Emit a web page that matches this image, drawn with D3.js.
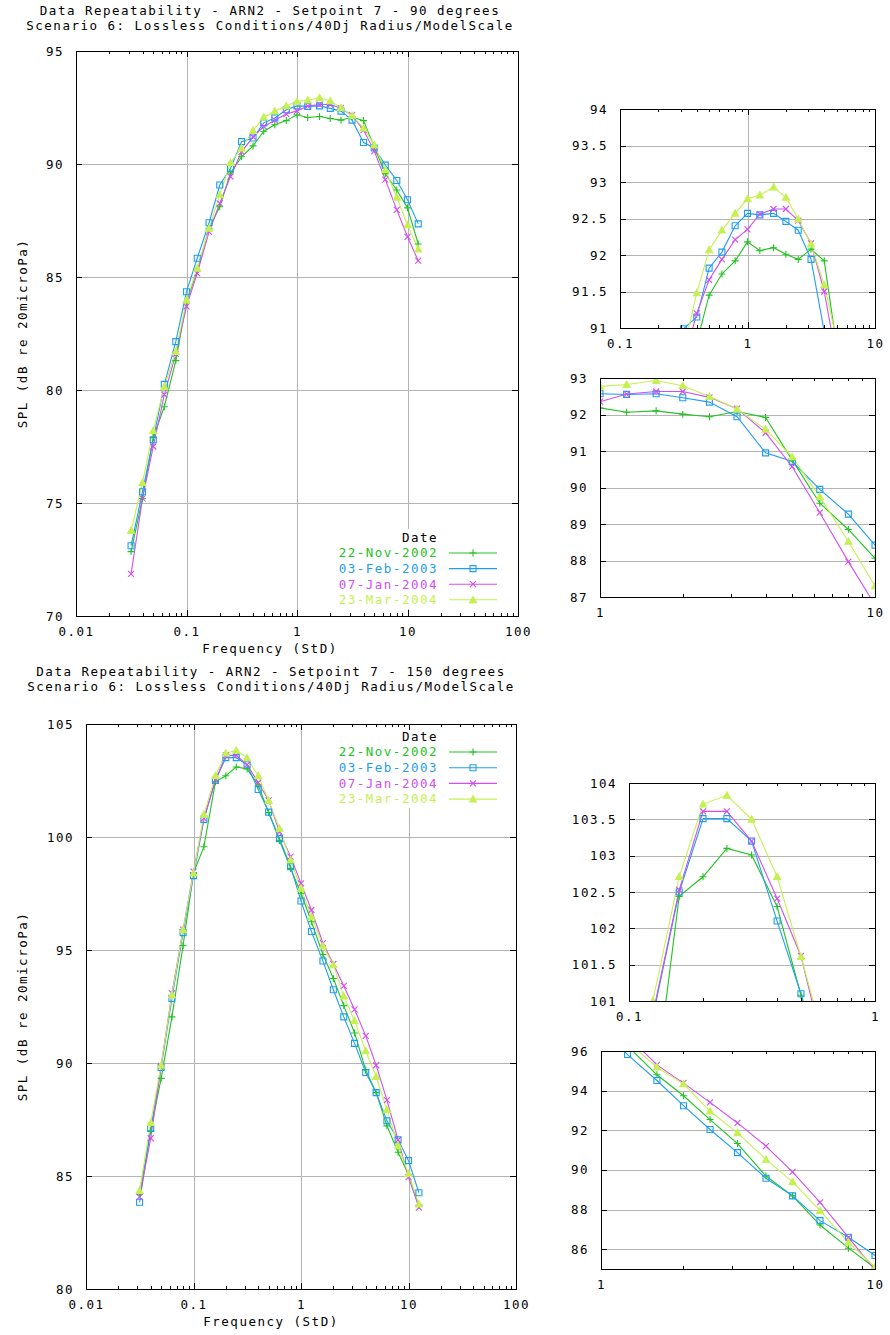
<!DOCTYPE html>
<html><head><meta charset="utf-8">
<script src="https://cdn.jsdelivr.net/npm/d3@7"></script>
<style>
body{margin:0;background:#fff}
svg text{font-family:"DejaVu Sans Mono","Liberation Mono",monospace;font-size:12.5px;letter-spacing:1.5px;fill:#000}
</style>
</head><body>
<svg id="c" width="890" height="1335"></svg>
<script>
// ---------------- data ----------------
const freq = [0.0315,0.04,0.05,0.063,0.08,0.1,0.125,0.16,0.2,0.25,0.315,0.4,0.5,0.63,0.8,1,1.25,1.6,2,2.5,3.15,4,5,6.3,8,10,12.5];
const seriesNames = ["22-Nov-2002","03-Feb-2003","07-Jan-2004","23-Mar-2004"];
const seriesColors = ["#22c322","#1e9ef0","#d24ef2","#c6f052"];
const seriesMarkers = ["plus","square","cross","triangle"];

// 90 degrees
const spl90_nov2002 = [72.85,75.2,77.9,79.26,81.3,83.9,85.28,87.15,88.11,89.6,90.32,90.8,91.45,91.74,91.92,92.18,92.06,92.1,92.01,91.94,92.08,91.92,90.75,89.57,88.85,88.06,86.46];
const spl90_feb2003 = [73.11,75.5,77.8,80.25,82.14,84.35,85.83,87.4,89.07,89.8,90.99,91.15,91.82,92.04,92.4,92.57,92.55,92.57,92.46,92.34,91.94,90.95,90.71,89.95,89.27,88.42,87.35];
const spl90_jan2004 = [71.86,75.2,77.5,79.8,81.6,83.7,85.16,87.0,88.26,89.44,90.54,91.2,91.66,91.94,92.21,92.35,92.56,92.63,92.63,92.47,92.16,91.5,90.57,89.31,87.97,86.78,85.72];
const spl90_mar2004 = [73.78,75.9,78.2,80.15,81.7,83.98,85.38,87.15,88.63,90.06,90.7,91.48,92.07,92.34,92.57,92.77,92.82,92.93,92.79,92.49,92.15,91.59,90.84,89.75,88.52,87.3,86.23];

// 150 degrees
const spl150_nov2002 = [84.2,87.0,89.32,92.04,95.2,98.4,99.57,102.44,102.71,103.1,103.01,102.3,101.08,99.85,98.61,97.51,96.25,94.8,93.74,92.54,91.33,89.69,88.69,87.22,86.05,85.05,83.7];
const spl150_feb2003 = [83.84,87.1,89.8,92.86,95.77,98.29,100.78,102.5,103.51,103.51,103.2,102.1,101.1,99.93,98.69,97.17,95.82,94.51,93.24,92.04,90.87,89.58,88.69,87.44,86.6,85.68,84.26];
const spl150_jan2004 = [84.08,86.67,89.87,93.08,95.9,98.47,100.82,102.53,103.61,103.61,103.2,102.41,101.62,100.23,99.13,97.95,96.77,95.3,94.38,93.41,92.37,91.2,89.9,88.36,86.6,84.95,83.6];
const spl150_mar2004 = [84.35,87.36,89.91,93.01,95.9,98.4,101.0,102.71,103.71,103.83,103.5,102.71,101.61,100.38,98.98,97.73,96.47,95.18,94.34,92.96,91.87,90.53,89.4,87.94,86.35,85.1,83.75];

// tick values
const xTicksMain = [0.01,0.1,1,10,100];
const yTicksMain90 = [70,75,80,85,90,95];
const yTicksMain150 = [80,85,90,95,100,105];
const xTicksZoomA = [0.1,1,10];
const yTicksZoomA = [91,91.5,92,92.5,93,93.5,94];
const xTicksZoomB = [1,10];
const yTicksZoomB = [87,88,89,90,91,92,93];
const xTicksZoomC = [0.1,1];
const yTicksZoomC = [101,101.5,102,102.5,103,103.5,104];
const yTicksZoomD = [86,88,90,92,94,96];

const titles90 = ["Data Repeatability - ARN2 - Setpoint 7 - 90 degrees","Scenario 6: Lossless Conditions/40Dj Radius/ModelScale"];
const titles150 = ["Data Repeatability - ARN2 - Setpoint 7 - 150 degrees","Scenario 6: Lossless Conditions/40Dj Radius/ModelScale"];
const xLabel = "Frequency (StD)";
const yLabel = "SPL (dB re 20microPa)";
const legendTitle = "Date";

// ---------------- drawing ----------------
const svg = d3.select("#c");
const set90 = [spl90_nov2002,spl90_feb2003,spl90_jan2004,spl90_mar2004];
const set150 = [spl150_nov2002,spl150_feb2003,spl150_jan2004,spl150_mar2004];

function markerPath(type){
  switch(type){
    case "plus": return "M-3.5,0H3.5M0,-3.5V3.5";
    case "square": return "M-3,-3H3V3H-3Z";
    case "cross": return "M-3,-3L3,3M-3,3L3,-3";
    case "triangle": return "M0,-3.5L3.5,2.8L-3.5,2.8Z";
  }
}
function drawMarker(g, type, color, cx, cy){
  const p = g.append("path").attr("d", markerPath(type))
    .attr("transform", `translate(${cx},${cy})`)
    .attr("stroke", color).attr("stroke-width", 1.1);
  if(type==="triangle") p.attr("fill", color); else p.attr("fill","none");
}

function minorTicks(dom){
  const out=[];
  const lo=Math.round(Math.log10(dom[0])), hi=Math.round(Math.log10(dom[1]));
  for(let e=lo;e<hi;e++) for(let m=2;m<=9;m++) out.push(m*Math.pow(10,e));
  return out;
}

let clipN=0;
function panel(p, data){
  const x = d3.scaleLog().domain(p.xd).range([p.x0,p.x1]);
  const y = d3.scaleLinear().domain(p.yd).range([p.y1,p.y0]);
  const w = p.x1-p.x0, h = p.y1-p.y0;
  const g = svg.append("g");
  const inner = (arr,d)=>arr.filter(v=>v>d[0]+1e-9 && v<d[1]-1e-9);

  // grid
  g.append("g").attr("transform",`translate(${p.x0},0)`)
    .call(d3.axisLeft(y).tickValues(inner(p.yt,p.yd)).tickSize(-w).tickFormat(""))
    .call(s=>{s.select(".domain").remove(); s.selectAll("line").attr("stroke","#b4b4b4").attr("shape-rendering","crispEdges");});
  g.append("g").attr("transform",`translate(0,${p.y1})`)
    .call(d3.axisBottom(x).tickValues(inner(p.xt,p.xd)).tickSize(-h).tickFormat(""))
    .call(s=>{s.select(".domain").remove(); s.selectAll("line").attr("stroke","#b4b4b4").attr("shape-rendering","crispEdges");});

  // data
  const cid = "clip"+(clipN++);
  svg.append("clipPath").attr("id",cid).append("rect").attr("x",p.x0).attr("y",p.y0).attr("width",w).attr("height",h);
  const dg = g.append("g").attr("clip-path",`url(#${cid})`);
  const line = d3.line().x((d,i)=>x(freq[i])).y(d=>y(d));
  data.forEach((s,k)=>{
    dg.append("path").attr("d",line(s)).attr("fill","none").attr("stroke",seriesColors[k]).attr("stroke-width",1.1);
  });
  data.forEach((s,k)=>{
    s.forEach((v,i)=>drawMarker(dg, seriesMarkers[k], seriesColors[k], x(freq[i]), y(v)));
  });

  // legend
  if(p.legend){
    const L = p.legend;
    g.append("rect").attr("x",L.box[0]).attr("y",L.box[1]).attr("width",L.box[2]).attr("height",L.box[3]).attr("fill","#fff");
    g.append("text").attr("x",L.right).attr("y",L.titleY).attr("dy","0.35em").attr("text-anchor","end").text(legendTitle);
    seriesNames.forEach((n,k)=>{
      const yy = L.rowY0 + k*L.dy;
      g.append("text").attr("x",L.right).attr("y",yy).attr("dy","0.35em").attr("text-anchor","end").style("fill",seriesColors[k]).text(n);
      g.append("line").attr("x1",L.lx0).attr("x2",L.lx1).attr("y1",yy).attr("y2",yy).attr("stroke",seriesColors[k]).attr("stroke-width",1.1);
      drawMarker(g, seriesMarkers[k], seriesColors[k], (L.lx0+L.lx1)/2, yy);
    });
  }

  // frame
  g.append("rect").attr("x",p.x0).attr("y",p.y0).attr("width",w).attr("height",h)
    .attr("fill","none").attr("stroke","#000").attr("stroke-width",1).attr("shape-rendering","crispEdges");

  const style = s=>{s.select(".domain").remove(); s.selectAll("line").attr("stroke","#000").attr("shape-rendering","crispEdges"); s.selectAll("text").attr("fill","#000").attr("font-family",null).attr("font-size",null);};
  // bottom major with labels
  g.append("g").attr("transform",`translate(0,${p.y1})`)
    .call(d3.axisBottom(x).tickValues(p.xt).tickSize(-6).tickPadding(11).tickFormat(d=>String(d))).call(style);
  // bottom minor
  g.append("g").attr("transform",`translate(0,${p.y1})`)
    .call(d3.axisBottom(x).tickValues(minorTicks(p.xd)).tickSize(-3).tickFormat("")).call(style);
  // top major/minor
  g.append("g").attr("transform",`translate(0,${p.y0})`)
    .call(d3.axisTop(x).tickValues(p.xt).tickSize(-6).tickFormat("")).call(style);
  g.append("g").attr("transform",`translate(0,${p.y0})`)
    .call(d3.axisTop(x).tickValues(minorTicks(p.xd)).tickSize(-3).tickFormat("")).call(style);
  // left with labels
  g.append("g").attr("transform",`translate(${p.x0},0)`)
    .call(d3.axisLeft(y).tickValues(p.yt).tickSize(-6).tickPadding(12).tickFormat(d=>String(d))).call(style);
  // right
  g.append("g").attr("transform",`translate(${p.x1},0)`)
    .call(d3.axisRight(y).tickValues(p.yt).tickSize(-6).tickFormat("")).call(style);

  // titles and labels
  if(p.titles){
    p.titles.forEach((t,i)=>svg.append("text").attr("x",p.titleX).attr("y",p.titleY+i*14.5).attr("dy","0.35em").attr("text-anchor","middle").text(t));
    svg.append("text").attr("x",p.titleX).attr("y",p.y1+33).attr("dy","0.35em").attr("text-anchor","middle").text(xLabel);
    svg.append("text").attr("transform",`translate(23,${(p.y0+p.y1)/2}) rotate(-90)`).attr("dy","0.35em").attr("text-anchor","middle").text(yLabel);
  }
}

panel({x0:76,x1:518,y0:51,y1:616,xd:[0.01,100],yd:[70,95],xt:xTicksMain,yt:yTicksMain90,
  titles:titles90,titleX:270,titleY:11,
  legend:{right:438,titleY:538,rowY0:553,dy:15.6,lx0:449,lx1:497,box:[334,529,174,80]}}, set90);
panel({x0:620,x1:875,y0:109,y1:328,xd:[0.1,10],yd:[91,94],xt:xTicksZoomA,yt:yTicksZoomA}, set90);
panel({x0:600,x1:875,y0:378,y1:597,xd:[1,10],yd:[87,93],xt:xTicksZoomB,yt:yTicksZoomB}, set90);

panel({x0:86,x1:516,y0:724,y1:1289,xd:[0.01,100],yd:[80,105],xt:xTicksMain,yt:yTicksMain150,
  titles:titles150,titleX:271,titleY:672,
  legend:{right:438,titleY:737,rowY0:752,dy:15.7,lx0:449,lx1:497,box:[334,728,174,80]}}, set150);
panel({x0:629,x1:875,y0:783,y1:1001,xd:[0.1,1],yd:[101,104],xt:xTicksZoomC,yt:yTicksZoomC}, set150);
panel({x0:601,x1:875,y0:1051,y1:1269,xd:[1,10],yd:[85,96],xt:xTicksZoomB,yt:yTicksZoomD}, set150);
</script>
</body></html>
